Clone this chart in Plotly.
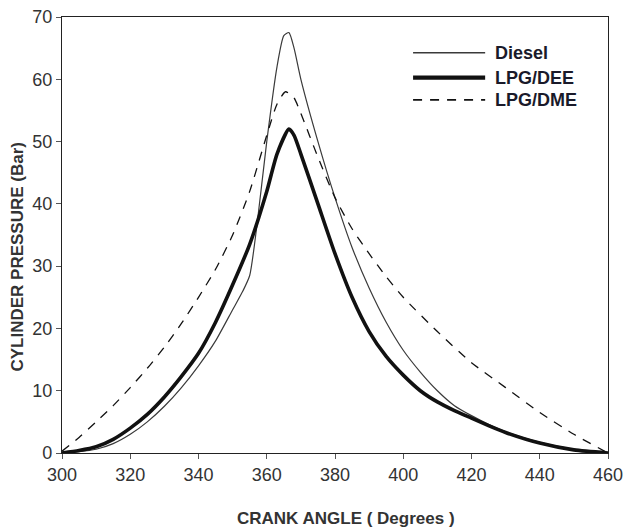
import plotly.graph_objects as go

# Crank angle (degrees) and cylinder pressure (bar)
diesel_angle = [300, 305, 310, 315, 320, 325, 330, 335, 340, 345, 350, 353, 355, 357, 360, 363, 365, 366.5, 368, 370, 375, 380, 385, 390, 395, 400, 405, 410, 415, 420, 425, 430, 440, 450, 460]
diesel_p     = [0, 0.2, 0.6, 1.5, 3, 5, 7.5, 10.5, 14, 18, 23, 26, 28.5, 36, 50, 62, 67, 67.5, 65, 60, 50, 41, 33, 26.5, 21, 16.5, 13, 10, 7.6, 6, 4.6, 3.4, 1.7, 0.6, 0]

dee_angle = [300, 305, 310, 315, 320, 325, 330, 335, 340, 345, 350, 355, 360, 363, 366.5, 368, 370, 375, 380, 385, 390, 395, 400, 405, 410, 415, 420, 425, 430, 440, 450, 460]
dee_p     = [0, 0.4, 1, 2.2, 4, 6.2, 9, 12.3, 16, 21, 27, 33.5, 42, 48, 52, 51, 48, 40, 32, 25, 19.5, 15.5, 12.5, 10, 8.2, 6.8, 5.6, 4.4, 3.3, 1.6, 0.5, 0]

dme_angle = [300, 305, 310, 315, 320, 325, 330, 335, 340, 345, 350, 355, 360, 363, 365.5, 368, 370, 375, 380, 385, 390, 395, 400, 410, 420, 430, 440, 450, 460]
dme_p     = [0.3, 2.5, 5, 7.6, 10.5, 13.6, 17, 20.8, 25, 29.5, 35, 42, 51, 56, 58, 57, 54.5, 47.5, 41, 36, 32, 28.3, 25, 19.5, 14.5, 10.5, 6.5, 3, 0]

x_ticks = [300, 320, 340, 360, 380, 400, 420, 440, 460]
y_ticks = [0, 10, 20, 30, 40, 50, 60, 70]

series_names = ["Diesel", "LPG/DEE", "LPG/DME"]
styles = [
    dict(color="#3a3a3a", width=1.2),
    dict(color="#111111", width=3.6),
    dict(color="#111111", width=1.3, dash="9px,8px"),
]

fig = go.Figure()
for name, xs, ys, st in zip(series_names, [diesel_angle, dee_angle, dme_angle],
                            [diesel_p, dee_p, dme_p], styles):
    fig.add_trace(go.Scatter(x=xs, y=ys, mode="lines", name=name, showlegend=False,
                             line=dict(shape="spline", smoothing=0.6, **st)))

# Hand-drawn legend (key lines and labels) in paper coordinates
legend_y = [0.918, 0.861, 0.81]
for name, st, ly in zip(series_names, styles, legend_y):
    fig.add_shape(type="line", xref="paper", yref="paper", x0=0.643, x1=0.775, y0=ly, y1=ly,
                  line=dict(color=st["color"], width=st["width"] + (0.6 if st["width"] > 3 else 0.3),
                            dash=st.get("dash", "solid")))
    fig.add_annotation(xref="paper", yref="paper", x=0.79, y=ly, text="<b>" + name + "</b>",
                       showarrow=False, xanchor="left", yanchor="middle",
                       font=dict(family="Liberation Sans Narrow, Arial Narrow, sans-serif", size=18, color="#1a1a2a"))

title_font = dict(family="Liberation Sans Narrow, Arial, sans-serif", size=17, color="#333")
fig.add_annotation(xref="paper", yref="paper", x=0.52, y=-0.151, text="<b>CRANK ANGLE ( Degrees )</b>",
                   showarrow=False, xanchor="center", yanchor="middle", font=title_font)
fig.add_annotation(xref="paper", yref="paper", x=-0.081, y=0.45, text="<b>CYLINDER PRESSURE (Bar)</b>",
                   showarrow=False, xanchor="center", yanchor="middle", textangle=-90, font=title_font)

tick_font = dict(family="Liberation Sans Narrow, Arial Narrow, sans-serif", size=18, color="#333")
axis_common = dict(showgrid=False, zeroline=False, showline=True, linecolor="#222",
                   linewidth=1.3, mirror=True, ticks="outside", ticklen=5, tickcolor="#555",
                   tickfont=tick_font, automargin=False)

fig.update_layout(
    width=635, height=529,
    margin=dict(l=62, r=27, t=17, b=76),
    paper_bgcolor="white", plot_bgcolor="white",
    showlegend=False,
    xaxis=dict(range=[300, 460], tickvals=x_ticks, **axis_common),
    yaxis=dict(range=[0, 70], tickvals=y_ticks, **axis_common),
)

fig.write_html("out.html")
